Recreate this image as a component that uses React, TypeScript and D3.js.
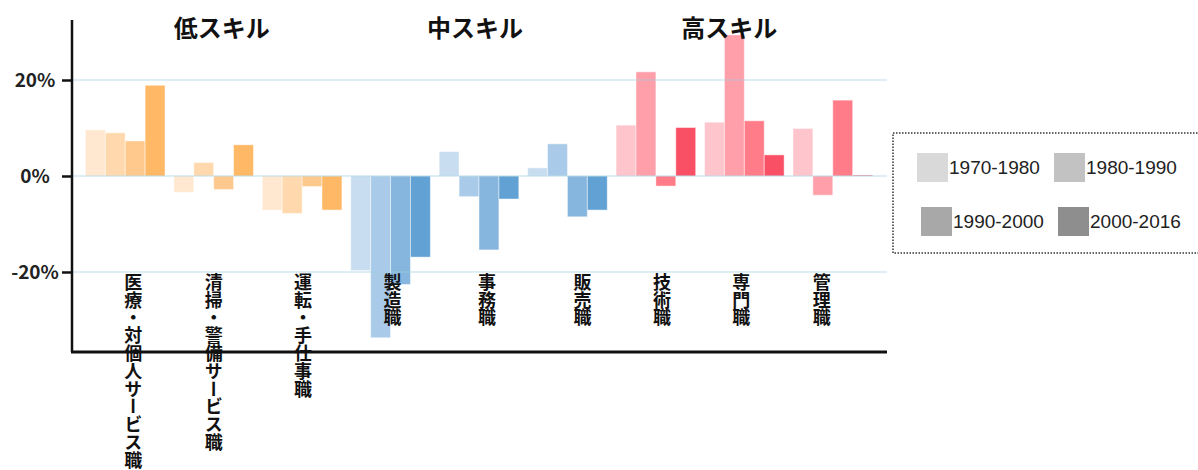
import * as d3 from "d3";
import { useEffect, useRef } from "react";

// occupations (left to right) and the skill group each belongs to
const occupations = [
  "医療・対個人サービス職",
  "清掃・警備サービス職",
  "運転・手仕事職",
  "製造職",
  "事務職",
  "販売職",
  "技術職",
  "専門職",
  "管理職",
];
const skillOf = ["low", "low", "low", "mid", "mid", "mid", "high", "high", "high"];

const periods = ["1970-1980", "1980-1990", "1990-2000", "2000-2016"];

// change in employment share (%) per period
const v1970 = [9.6, -3.4, -7.1, -19.7, 5.1, 1.7, 10.6, 11.2, 9.9];
const v1980 = [9.0, 2.8, -7.8, -33.7, -4.3, 6.7, 21.7, 29.4, -4.0];
const v1990 = [7.3, -2.8, -2.2, -22.6, -15.4, -8.5, -2.1, 11.5, 15.8];
const v2000 = [18.9, 6.5, -7.1, -16.9, -4.8, -7.1, 10.1, 4.4, 0.2];

const groupKeys = ["low", "mid", "high"];
const groupTitles = ["低スキル", "中スキル", "高スキル"];

const yTicks = [20, 0, -20];

const W = 1198;
const H = 470;

export default function App() {
  const ref = useRef<SVGSVGElement | null>(null);

  useEffect(() => {
    if (!ref.current) return;
    const svg = d3.select(ref.current);
    svg.selectAll("*").remove();

    const values = [v1970, v1980, v1990, v2000];
    const rows = occupations.map((name, i) => ({
      name,
      skill: skillOf[i],
      vals: periods.map((p, k) => ({ period: p, value: values[k][i] })),
    }));

    /* -----------------------------
        SCALES
    ----------------------------- */
    const axisX = 72;
    const axisBottom = 352;
    const gridRight = 887;

    const x = d3
      .scaleBand()
      .domain(occupations)
      .range([81, 877])
      .paddingInner(0.1)
      .paddingOuter(0.05);

    const xi = d3.scaleBand().domain(periods).range([0, x.bandwidth()]);

    const y = d3.scaleLinear().domain([-36.67, 32.5]).range([axisBottom, 20]);

    const palette: Record<string, string[]> = {
      low: ["#FFE8CF", "#FFD9AD", "#FFC98E", "#FFB866"],
      mid: ["#C9DDF0", "#A9CAE8", "#86B5DE", "#62A1D4"],
      high: ["#FFC5CC", "#FF9FA9", "#FF7C88", "#FA5066"],
    };
    const legendColor = d3
      .scaleOrdinal<string>()
      .domain(periods)
      .range(["#D9D9D9", "#C2C2C2", "#A8A8A8", "#8E8E8E"]);

    const jp = "'Noto Sans CJK JP', 'Noto Sans', sans-serif";

    /* -----------------------------
        BARS
    ----------------------------- */
    const groups = svg
      .append("g")
      .selectAll("g")
      .data(rows)
      .enter()
      .append("g")
      .attr("transform", (d) => `translate(${x(d.name)},0)`);

    groups
      .selectAll("rect")
      .data((d) => d.vals.map((v, k) => ({ ...v, color: palette[d.skill][k] })))
      .enter()
      .append("rect")
      .attr("x", (d) => xi(d.period)!)
      .attr("width", xi.bandwidth())
      .attr("y", (d) => y(Math.max(0, d.value)))
      .attr("height", (d) => Math.abs(y(d.value) - y(0)))
      .attr("fill", (d) => d.color)
      .attr("stroke", "#fff")
      .attr("stroke-opacity", 0.45)
      .attr("stroke-width", 1);

    /* -----------------------------
        GRID + AXES
    ----------------------------- */
    svg
      .append("g")
      .selectAll("line")
      .data(yTicks)
      .enter()
      .append("line")
      .attr("x1", axisX + 1)
      .attr("x2", gridRight)
      .attr("y1", (d) => y(d))
      .attr("y2", (d) => y(d))
      .attr("stroke", "#9fcfdf")
      .attr("stroke-opacity", 0.35)
      .attr("stroke-width", 2);

    const yAxis = svg
      .append("g")
      .attr("transform", `translate(${axisX},0)`)
      .call(
        d3
          .axisLeft(y)
          .tickValues(yTicks)
          .tickSize(10)
          .tickFormat((d) => `${d}%`)
      );
    yAxis.select(".domain").remove();
    yAxis.selectAll(".tick line").attr("stroke", "#111").attr("stroke-width", 2.5);
    yAxis
      .selectAll(".tick text")
      .attr("x", -37)
      .attr("text-anchor", "middle")
      .attr("fill", "#222")
      .style("font-family", jp)
      .style("font-weight", "bold")
      .style("font-size", "19px");

    svg
      .append("line")
      .attr("x1", axisX)
      .attr("x2", axisX)
      .attr("y1", 20)
      .attr("y2", axisBottom)
      .attr("stroke", "#111")
      .attr("stroke-width", 2.5);

    svg
      .append("line")
      .attr("x1", axisX - 1)
      .attr("x2", gridRight)
      .attr("y1", axisBottom)
      .attr("y2", axisBottom)
      .attr("stroke", "#111")
      .attr("stroke-width", 3);

    /* -----------------------------
        CATEGORY LABELS (vertical)
    ----------------------------- */
    const labelShift = [8, 0, 1, 2, 8, 15, 6, -3, -11];
    svg
      .append("g")
      .selectAll("text")
      .data(occupations)
      .enter()
      .append("text")
      .attr("x", (d, i) => x(d)! + x.bandwidth() / 2 + labelShift[i])
      .attr("y", y(-20) + 1)
      .style("writing-mode", "vertical-rl")
      .style("font-family", jp)
      .style("font-weight", "bold")
      .style("font-size", "18px")
      .style("letter-spacing", "-0.2px")
      .attr("fill", "#111")
      .text((d) => d);

    /* -----------------------------
        GROUP TITLES
    ----------------------------- */
    const titleShift = [8, -4, -15];
    svg
      .append("g")
      .selectAll("text")
      .data(groupKeys)
      .enter()
      .append("text")
      .attr("x", (g, i) => {
        const members = occupations.filter((_, j) => skillOf[j] === g);
        const mid = members[Math.floor(members.length / 2)];
        return x(mid)! + x.bandwidth() / 2 + titleShift[i];
      })
      .attr("y", 37)
      .attr("text-anchor", "middle")
      .style("font-family", jp)
      .style("font-weight", "bold")
      .style("font-size", "24px")
      .attr("fill", "#111")
      .text((_, i) => groupTitles[i]);

    /* -----------------------------
        LEGEND
    ----------------------------- */
    const legend = svg.append("g").attr("transform", "translate(893,133)");
    legend
      .append("rect")
      .attr("width", 330)
      .attr("height", 120)
      .attr("fill", "none")
      .attr("stroke", "#333")
      .attr("stroke-width", 1.5)
      .attr("stroke-dasharray", "1.5 1.5");

    const item = legend
      .selectAll(".item")
      .data(periods)
      .enter()
      .append("g")
      .attr("class", "item")
      .attr(
        "transform",
        (_, i) => `translate(${24 + (i % 2) * 137 + Math.floor(i / 2) * 4},${20 + Math.floor(i / 2) * 54})`
      );
    item
      .append("rect")
      .attr("width", 31)
      .attr("height", 29)
      .attr("fill", (d) => legendColor(d));
    item
      .append("text")
      .attr("x", 32)
      .attr("y", 21)
      .style("font-family", "'Liberation Sans', Arial, sans-serif")
      .style("font-size", "19px")
      .attr("fill", "#222")
      .text((d) => d);
  }, []);

  return (
    <svg
      ref={ref}
      width={W}
      height={H}
      style={{ position: "absolute", left: 0, top: 0, background: "#fff" }}
    />
  );
}
